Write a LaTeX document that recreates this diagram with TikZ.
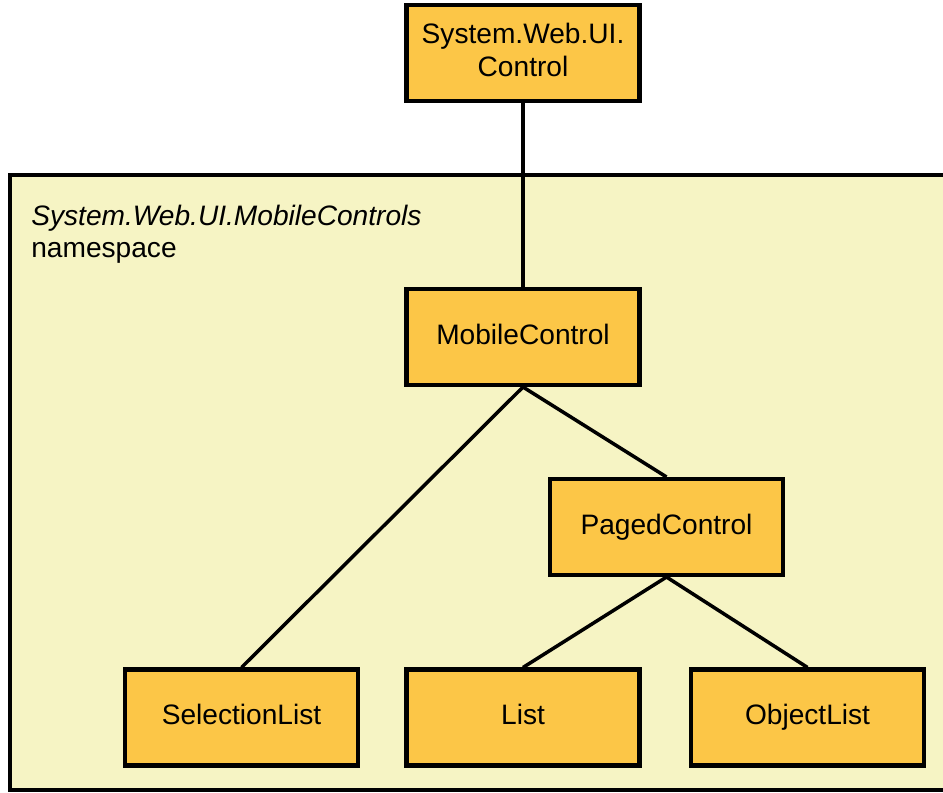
\documentclass[tikz,border=0pt]{standalone}
\usepackage{fontspec}
\setmainfont{Liberation Sans}
\usepackage{tikz}
\definecolor{boxfill}{HTML}{FCC647}
\definecolor{nsfill}{HTML}{F6F4C4}
\tikzstyle{class}=[draw=black, line width=2.3pt, fill=boxfill, minimum width=4.66cm, minimum height=1.92cm, align=center, font=\fontsize{16}{19}\selectfont, execute at begin node=\vphantom{Ag}]
\tikzstyle{link}=[draw=black, line width=2pt]

\begin{document}
\begin{tikzpicture}
		   \clip (0, 0) rectangle (18.86, -15.86);
		   \draw [line width=2.3pt, fill=nsfill] (0.2, -3.5) rectangle (19.3, -15.8);
		   \node (ns) at (0.62, -4.1)[anchor=north west, align=left, font=\fontsize{16}{18}\selectfont, inner sep=0pt] {\textit{System.Web.UI.MobileControls}\\namespace};
		   \begin{scope}
			   \node (control) at (10.46, -1.06)[class] {System.Web.UI.\\Control};
			   \node (mobile) at (10.46, -6.74)[class] {MobileControl};
			   \node (paged) at (13.33, -10.54)[class] {PagedControl};

			   \node (selection) at (4.83, -14.35)[class] {SelectionList};
			   \node (list) at (10.46, -14.35)[class] {List};
			   \node (objectlist) at (16.15, -14.35)[class] {ObjectList};
		   \end{scope}
		   \begin{scope}
			   \path [link] (control) edge (mobile);
			   \path [link] (mobile.south) edge (selection.north);
			   \path [link] (mobile.south) edge (paged.north);
			   \path [link] (paged.south) edge (list.north);
			   \path [link] (paged.south) edge (objectlist.north);
		   \end{scope}
	   \end{tikzpicture}
\end{document}
